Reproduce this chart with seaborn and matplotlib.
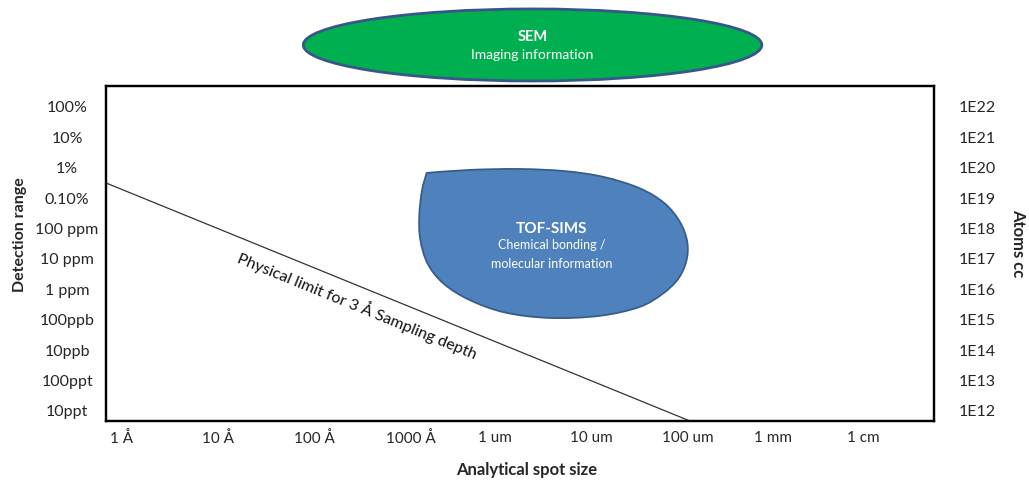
import matplotlib
matplotlib.use("Agg")
import matplotlib.pyplot as plt
from matplotlib.patches import Ellipse, PathPatch
from matplotlib.path import Path
import seaborn as sns
import numpy as np

# axis labels
spot_labels = ["1 Å", "10 Å", "100 Å", "1000 Å", "1 um", "10 um", "100 um", "1 mm", "1 cm"]
detect_labels = ["10ppt", "100ppt", "10ppb", "100ppb", "1 ppm", "10 ppm",
                 "100 ppm", "0.10%", "1%", "10%", "100%"]
atoms_labels = ["1E12", "1E13", "1E14", "1E15", "1E16", "1E17",
                "1E18", "1E19", "1E20", "1E21", "1E22"]

# physical limit line (spot index, detection level)
limit_x = [-0.043, 6.30]
limit_y = [7.5, -0.33]

# TOF-SIMS region outline (spot index, detection level), starts at the sharp corner
tof_x = [3.44, 3.91, 4.45, 4.94, 5.36, 5.75, 6.02, 6.19, 6.27, 6.26, 6.17, 6.00,
         5.75, 5.32, 4.78, 4.29, 3.90, 3.62, 3.45, 3.37, 3.36, 3.39, 3.44]
tof_y = [7.83, 7.93, 7.96, 7.89, 7.70, 7.33, 6.84, 6.22, 5.56, 4.93, 4.34, 3.85,
         3.42, 3.13, 3.06, 3.24, 3.66, 4.20, 4.85, 5.65, 6.45, 7.27, 7.83]

sns.set_style("white")
plt.rcParams["font.family"] = ["Lato", "DejaVu Sans"]

fig = plt.figure(figsize=(10.29, 4.82), dpi=100)
ax = fig.add_axes([106 / 1029, 1 - 421 / 482, 828 / 1029, 335 / 482])

sns.lineplot(x=limit_x, y=limit_y, ax=ax, color="#333333", linewidth=0.9)

# smooth outline through the TOF-SIMS points (Catmull-Rom -> cubic Bezier)
pts = np.column_stack([tof_x, tof_y])
ext = np.vstack([pts[0], pts, pts[-1]])
verts = [tuple(pts[0])]
codes = [Path.MOVETO]
for i in range(1, len(ext) - 2):
    p0, p1, p2, p3 = ext[i - 1], ext[i], ext[i + 1], ext[i + 2]
    c1 = p1 + (p2 - p0) / 6
    c2 = p2 - (p3 - p1) / 6
    verts += [tuple(c1), tuple(c2), tuple(p2)]
    codes += [Path.CURVE4] * 3
verts.append(tuple(pts[0]))
codes.append(Path.CLOSEPOLY)
ax.add_patch(PathPatch(Path(verts, codes), facecolor="#4F81BD",
                       edgecolor="#385D8A", linewidth=1.3, zorder=3))

ax.text(4.8, 6.0, "TOF-SIMS", color="white", fontsize=11, fontweight="bold",
        ha="center", va="center", zorder=4)
ax.text(4.8, 5.45, "Chemical bonding /", color="white", fontsize=9,
        ha="center", va="center", zorder=4)
ax.text(4.8, 4.85, "molecular information", color="white", fontsize=9,
        ha="center", va="center", zorder=4)

ax.text(2.69, 3.49, "Physical limit for 3 Å Sampling depth", fontsize=11.5,
        color="#111111", rotation=-22.2, rotation_mode="anchor",
        ha="center", va="center")

# SEM ellipse above the plot
ax.add_patch(Ellipse((4.59, 12.04), 4.98, 2.37, facecolor="#00B050",
                     edgecolor="#37568A", linewidth=2, clip_on=False, zorder=5))
ax.text(4.59, 12.3, "SEM", color="white", fontsize=10.5, fontweight="bold",
        ha="center", va="center", clip_on=False, zorder=6)
ax.text(4.59, 11.7, "Imaging information", color="white", fontsize=10,
        ha="center", va="center", clip_on=False, zorder=6)

ax.set_xlim(-0.043, 8.95)
ax.set_ylim(-0.33, 10.69)
ax.set_xticks(range(len(spot_labels)))
ax.set_xticklabels(spot_labels, ha="left", fontsize=11)
ax.set_yticks(range(len(detect_labels)))
ax.set_yticklabels(detect_labels, ha="center", fontsize=11.5)
ax.tick_params(axis="x", length=0, pad=7)
ax.tick_params(axis="y", length=0, pad=28)

ax2 = ax.twinx()
ax2.set_ylim(ax.get_ylim())
ax2.set_yticks(range(len(atoms_labels)))
ax2.set_yticklabels(atoms_labels, fontsize=11.5)
ax2.tick_params(axis="y", length=0, pad=18)

for a in (ax, ax2):
    for s in a.spines.values():
        s.set_visible(True)
        s.set_color("black")
        s.set_linewidth(1.6)

fig.text(20 / 1029, 1 - 235 / 482, "Detection range", rotation=90, fontsize=11.5,
         fontweight="bold", ha="center", va="center")
fig.text(1018 / 1029, 1 - 243 / 482, "Atoms cc", rotation=-90, fontsize=12,
         fontweight="bold", ha="center", va="center")
fig.text(527 / 1029, 1 - 470 / 482, "Analytical spot size", fontsize=12,
         fontweight="bold", ha="center", va="center")

fig.savefig("out.png", dpi=100)
